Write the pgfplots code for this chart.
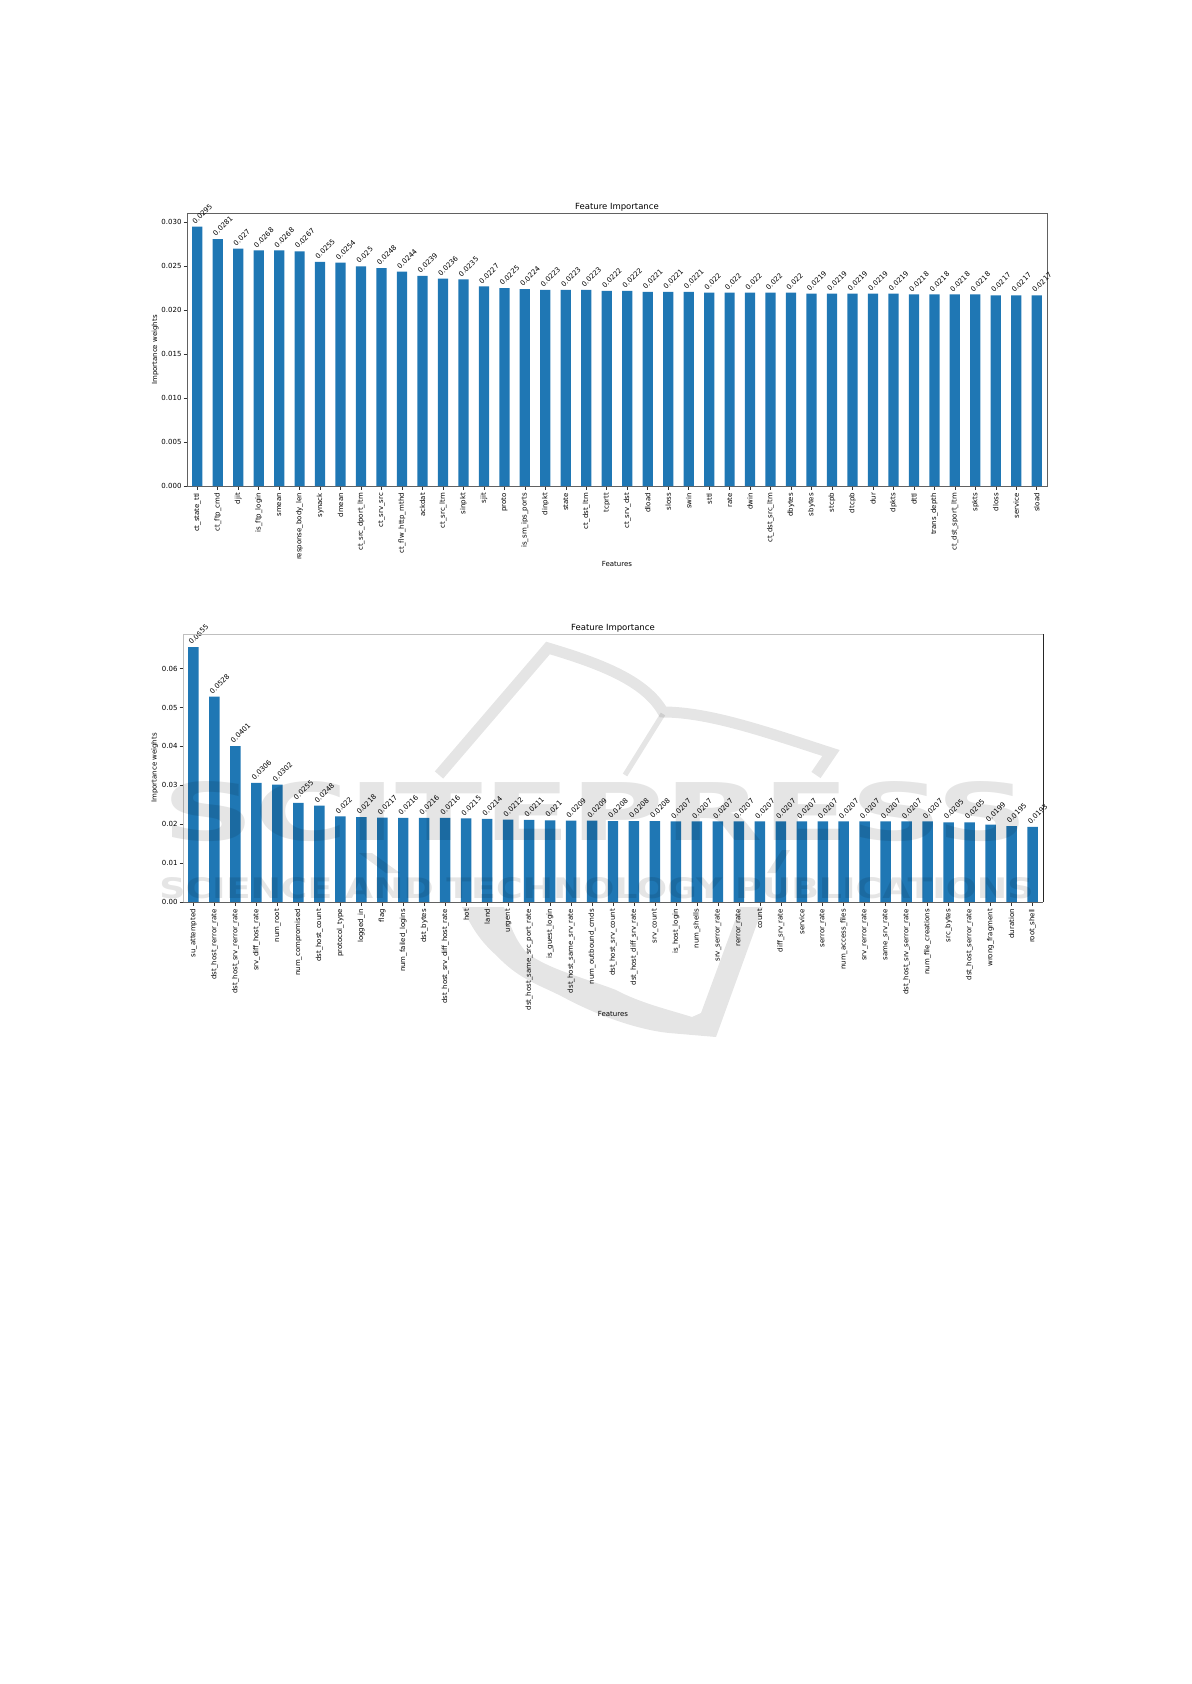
\documentclass[border=0pt]{standalone}
\usepackage{fontspec}
\setmainfont{DejaVu Sans}
\usepackage{graphicx}
\usepackage{pgfplots}
\pgfplotsset{compat=1.18}
\definecolor{barblue}{HTML}{1F77B4}

\pgfplotsset{
  imp/.style={
    scale only axis,
    width=430pt,
    ybar,
    bar width=0.5,
    axis line style={black!62,line width=0.45pt},
    tick style={black!80,line width=0.3pt},
    major tick length=1.75pt,
    tick align=outside,
    xtick pos=bottom,
    ytick pos=left,
    xtick=data,
    ymin=0,
    scaled y ticks=false,
    tick label style={font=\fontsize{3.5}{4}\selectfont},
    xticklabel style={rotate=90,anchor=east,inner sep=0pt,xshift=-1.6pt},
    yticklabel style={inner sep=0.8pt},
    every axis title shift=0pt,
    title style={font=\fontsize{4.25}{5}\selectfont,at={(axis description cs:0.5,1)},anchor=south,inner sep=0.6pt},
    label style={font=\fontsize{3.5}{4}\selectfont},
    point meta=explicit symbolic,
    nodes near coords,
    every node near coord/.append style={font=\fontsize{3.5}{4}\selectfont,rotate=45,anchor=south west,inner sep=0pt,yshift=1.2pt},
  },
}

\begin{document}
\begin{tikzpicture}
\path[use as bounding box] (0,0) rectangle (595.5pt,-842pt);

% first model
\begin{axis}[
  imp,
  at={(93.5pt,-243pt)},
  anchor=south west,
  height=136.5pt,
  xmin=-0.5, xmax=41.5,
  ymax=0.03106,
  ytick={0,0.005,0.010,0.015,0.020,0.025,0.030},
  yticklabels={0.000,0.005,0.010,0.015,0.020,0.025,0.030},
  xticklabels={ct\_state\_ttl,ct\_ftp\_cmd,djit,is\_ftp\_login,smean,response\_body\_len,synack,dmean,ct\_src\_dport\_ltm,ct\_srv\_src,ct\_flw\_http\_mthd,ackdat,ct\_src\_ltm,sinpkt,sjit,proto,is\_sm\_ips\_ports,dinpkt,state,ct\_dst\_ltm,tcprtt,ct\_srv\_dst,dload,sloss,swin,sttl,rate,dwin,ct\_dst\_src\_ltm,dbytes,sbytes,stcpb,dtcpb,dur,dpkts,dttl,trans\_depth,ct\_dst\_sport\_ltm,spkts,dloss,service,sload},
  title={Feature Importance},
  xlabel={Features},
  ylabel={Importance weights},
  xlabel style={at={(axis description cs:0.5,-0.286)},anchor=center},
  ylabel style={at={(axis description cs:-0.037,0.498)},anchor=center},
]
\addplot[draw=none,fill=barblue] table[x=x,y=y,meta=y] {
x y
0 0.0295
1 0.0281
2 0.027
3 0.0268
4 0.0268
5 0.0267
6 0.0255
7 0.0254
8 0.025
9 0.0248
10 0.0244
11 0.0239
12 0.0236
13 0.0235
14 0.0227
15 0.0225
16 0.0224
17 0.0223
18 0.0223
19 0.0223
20 0.0222
21 0.0222
22 0.0221
23 0.0221
24 0.0221
25 0.022
26 0.022
27 0.022
28 0.022
29 0.022
30 0.0219
31 0.0219
32 0.0219
33 0.0219
34 0.0219
35 0.0218
36 0.0218
37 0.0218
38 0.0218
39 0.0217
40 0.0217
41 0.0217
};
\end{axis}

% second model, its frame came out uneven in the scan
\begin{axis}[
  imp,
  at={(91.5pt,-451pt)},
  anchor=south west,
  height=134pt,
  xmin=-0.5, xmax=40.5,
  ymax=0.0689,
  axis line style={draw=none},
  ytick={0,0.01,0.02,0.03,0.04,0.05,0.06},
  yticklabels={0.00,0.01,0.02,0.03,0.04,0.05,0.06},
  xticklabels={su\_attempted,dst\_host\_rerror\_rate,dst\_host\_srv\_rerror\_rate,srv\_diff\_host\_rate,num\_root,num\_compromised,dst\_host\_count,protocol\_type,logged\_in,flag,num\_failed\_logins,dst\_bytes,dst\_host\_srv\_diff\_host\_rate,hot,land,urgent,dst\_host\_same\_src\_port\_rate,is\_guest\_login,dst\_host\_same\_srv\_rate,num\_outbound\_cmds,dst\_host\_srv\_count,dst\_host\_diff\_srv\_rate,srv\_count,is\_host\_login,num\_shells,srv\_serror\_rate,rerror\_rate,count,diff\_srv\_rate,service,serror\_rate,num\_access\_files,srv\_rerror\_rate,same\_srv\_rate,dst\_host\_srv\_serror\_rate,num\_file\_creations,src\_bytes,dst\_host\_serror\_rate,wrong\_fragment,duration,root\_shell},
  title={Feature Importance},
  xlabel={Features},
  ylabel={Importance weights},
  xlabel style={at={(axis description cs:0.5,-0.418)},anchor=center},
  ylabel style={at={(axis description cs:-0.033,0.5)},anchor=center},
  after end axis/.code={
    \draw[black!25,line width=0.45pt] (rel axis cs:0,0) -- (rel axis cs:0,1) -- (rel axis cs:1,1);
    \draw[black!62,line width=0.45pt] (rel axis cs:0,0) -- (rel axis cs:1,0);
    \draw[black!85,line width=0.45pt] (rel axis cs:1,0) -- (rel axis cs:1,1);
  },
]
\addplot[draw=none,fill=barblue] table[x=x,y=y,meta=y] {
x y
0 0.0655
1 0.0528
2 0.0401
3 0.0306
4 0.0302
5 0.0255
6 0.0248
7 0.022
8 0.0218
9 0.0217
10 0.0216
11 0.0216
12 0.0216
13 0.0215
14 0.0214
15 0.0212
16 0.0211
17 0.021
18 0.0209
19 0.0209
20 0.0208
21 0.0208
22 0.0208
23 0.0207
24 0.0207
25 0.0207
26 0.0207
27 0.0207
28 0.0207
29 0.0207
30 0.0207
31 0.0207
32 0.0207
33 0.0207
34 0.0207
35 0.0207
36 0.0205
37 0.0205
38 0.0199
39 0.0195
40 0.0193
};
\end{axis}

% publisher watermark over the second chart, coordinates in image pixels
\begin{scope}[x=0.5pt,y=-0.5pt,opacity=0.1]
  \draw[line width=5.5pt,line cap=butt,line join=miter] (439,775) -- (548,648)
    .. controls (598,663) and (645,680) .. (663,712)
    .. controls (710,712) and (769,733) .. (831,753) -- (816,775);
  \draw[line width=2.6pt] (663,714) -- (625,775);
  \fill (462,907) .. controls (475,935) and (485,945) .. (498,957)
    .. controls (520,980) and (540,985) .. (563,997)
    .. controls (600,1017) and (640,1030) .. (669,1033)
    -- (716,1037) -- (763,907) -- (740,907) -- (701,1013) -- (692,1017)
    .. controls (670,1010) and (640,1003) .. (616,990)
    .. controls (585,978) and (550,970) .. (527,953)
    .. controls (515,940) and (510,925) .. (504,907) -- cycle;
  \fill (767,873) -- (782,850) -- (790,850) -- (776,873) -- cycle;
  \fill (359,853) -- (372,853) -- (400,873) -- (386,873) -- cycle;
  \node[anchor=south west,inner sep=0pt] at (162,842)
    {\resizebox{433pt}{29.5pt}{\bfseries SCITEPRESS}};
  \node[anchor=south west,inner sep=0pt] at (159,899)
    {\resizebox{437pt}{10.5pt}{\bfseries SCIENCE AND TECHNOLOGY PUBLICATIONS}};
\end{scope}
\end{tikzpicture}
\end{document}
